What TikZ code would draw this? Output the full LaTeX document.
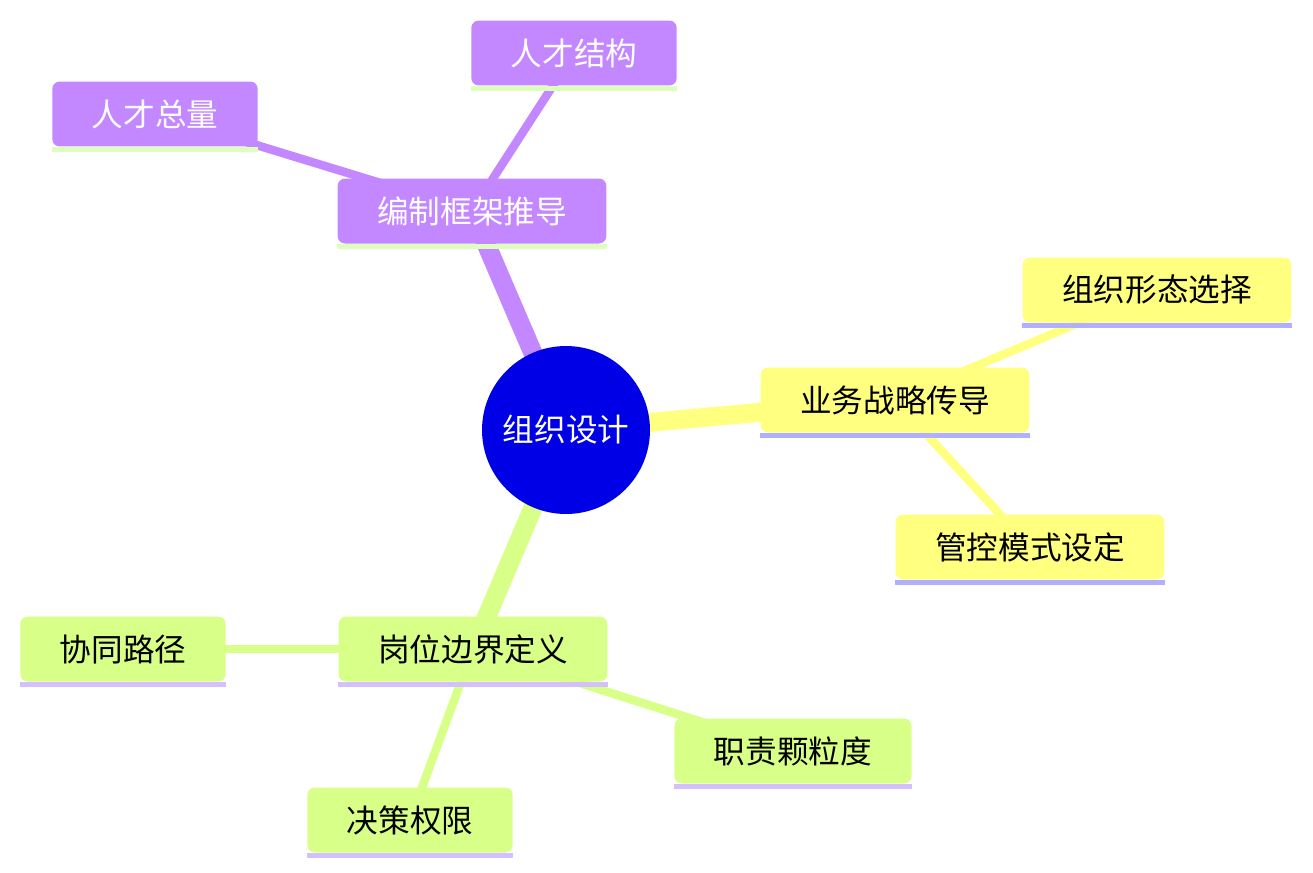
\documentclass[tikz,border=0pt]{standalone}
\usepackage{fontspec}
\setmainfont{Noto Sans CJK SC}
\definecolor{mindblue}{HTML}{0000E6}
\definecolor{mindpurple}{HTML}{C388FF}
\definecolor{mindyellow}{HTML}{FFFF80}
\definecolor{mindgreen}{HTML}{D8FF88}
\definecolor{purplebar}{HTML}{DDFFBB}
\definecolor{yellowbar}{HTML}{B0B0FF}
\definecolor{greenbar}{HTML}{D4BFFF}
\usetikzlibrary{backgrounds}
\tikzset{
    mapnode/.style={
        rounded corners=0.15cm,
        inner xsep=0.79cm,
        inner ysep=0pt,
        minimum height=1.3cm,
        font=\fontsize{18}{20}\selectfont
    },
    mappurple/.style={
        mapnode,
        fill=mindpurple,
        text=white
    },
    mapyellow/.style={
        mapnode,
        fill=mindyellow,
        text=black
    },
    mapgreen/.style={
        mapnode,
        fill=mindgreen,
        text=black
    },
    maproot/.style={
        circle,
        fill=mindblue,
        text=white,
        minimum size=3.36cm,
        inner sep=0pt,
        font=\fontsize{18}{20}\selectfont
    },
    mapbranch/.style={
        line width=0.38cm
    },
    maptwig/.style={
        line width=0.17cm
    }
}

\begin{document}
\begin{tikzpicture}[x=0.02cm,y=-0.02cm]
    \useasboundingbox (0,0) rectangle (1313,873);

    \node[maproot] (root) at (566,430) {组织设计};

    \node[mappurple] (framework) at (472,211) {编制框架推导};
    \node[mappurple] (talenttotal) at (155,114) {人才总量};
    \node[mappurple] (talentmix) at (574,53) {人才结构};

    \node[mapyellow] (strategy) at (895,400) {业务战略传导};
    \node[mapyellow] (orgform) at (1157,290) {组织形态选择};
    \node[mapyellow] (control) at (1030,547) {管控模式设定};

    \node[mapgreen] (boundary) at (473,649) {岗位边界定义};
    \node[mapgreen] (synergy) at (123,649) {协同路径};
    \node[mapgreen] (granularity) at (793,751) {职责颗粒度};
    \node[mapgreen] (authority) at (410,820) {决策权限};

    % bars under the topics
    \foreach \n/\c in {framework/purplebar, talenttotal/purplebar, talentmix/purplebar,
            strategy/yellowbar, orgform/yellowbar, control/yellowbar,
            boundary/greenbar, synergy/greenbar, granularity/greenbar, authority/greenbar}
        \fill[\c] (\n.south west) rectangle ([yshift=-0.11cm]\n.south east);

    \begin{scope}[on background layer]
        \draw[mapbranch, mindpurple] (root.center) -- (framework.center);
        \draw[mapbranch, mindyellow] (root.center) -- (strategy.center);
        \draw[mapbranch, mindgreen] (root.center) -- (boundary.center);

        \draw[maptwig, mindpurple] (framework.center) -- (talenttotal.center);
        \draw[maptwig, mindpurple] (framework.center) -- (talentmix.center);
        \draw[maptwig, mindyellow] (strategy.center) -- (orgform.center);
        \draw[maptwig, mindyellow] (strategy.center) -- (control.center);
        \draw[maptwig, mindgreen] (boundary.center) -- (synergy.center);
        \draw[maptwig, mindgreen] (boundary.center) -- (granularity.center);
        \draw[maptwig, mindgreen] (boundary.center) -- (authority.center);
    \end{scope}
\end{tikzpicture}
\end{document}
